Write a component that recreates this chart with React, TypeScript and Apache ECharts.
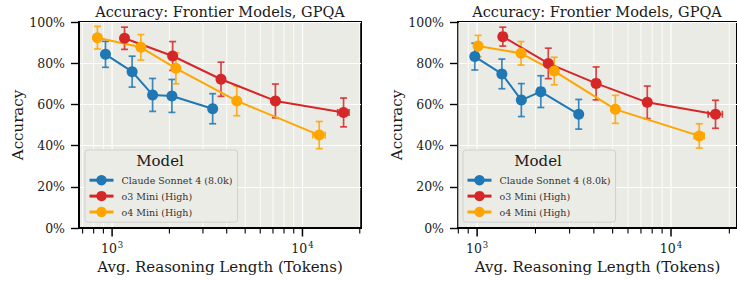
import React, { useEffect, useRef } from 'react';
import * as echarts from 'echarts';

// ---------- data ----------
const modelNames = ['Claude Sonnet 4 (8.0k)', 'o3 Mini (High)', 'o4 Mini (High)'];
const modelColors = ['#1f77b4', '#d62728', '#ffa500'];

const panelTitle = 'Accuracy: Frontier Models, GPQA';
const xAxisTitle = 'Avg. Reasoning Length (Tokens)';
const yAxisTitle = 'Accuracy';
const legendTitle = 'Model';

// Left panel
const leftClaudeTokens = [923, 1274, 1632, 2061, 3375];
const leftClaudeAcc = [84.3, 75.9, 64.6, 64.1, 57.9];
const leftClaudeErr = [6.3, 7.5, 8.0, 8.0, 7.3];
const leftClaudeTokErr = [28, 38, 50, 62, 100];

const leftO3Tokens = [1162, 2080, 3733, 7210, 16440];
const leftO3Acc = [92.1, 83.5, 72.2, 61.7, 56.1];
const leftO3Err = [5.4, 7.0, 8.3, 8.2, 7.0];
const leftO3TokErr = [35, 62, 110, 215, 1130];

const leftO4Tokens = [837, 1416, 2163, 4518, 12250];
const leftO4Acc = [92.4, 87.7, 77.5, 61.7, 45.1];
const leftO4Err = [5.5, 6.2, 7.5, 7.2, 6.6];
const leftO4TokErr = [25, 42, 65, 135, 915];

// Right panel
const rightClaudeTokens = [973, 1342, 1691, 2131, 3342];
const rightClaudeAcc = [83.2, 74.8, 62.1, 66.2, 55.2];
const rightClaudeErr = [6.5, 7.2, 8.0, 7.7, 7.2];
const rightClaudeTokErr = [29, 40, 50, 64, 100];

const rightO3Tokens = [1357, 2329, 4110, 7545, 16970];
const rightO3Acc = [92.9, 79.9, 70.2, 61.0, 55.2];
const rightO3Err = [4.6, 7.4, 8.0, 7.9, 6.8];
const rightO3TokErr = [40, 70, 123, 226, 1430];

const rightO4Tokens = [1012, 1685, 2500, 5165, 13990];
const rightO4Acc = [88.3, 84.8, 76.2, 57.6, 44.7];
const rightO4Err = [5.2, 5.7, 6.7, 6.8, 5.9];
const rightO4TokErr = [30, 50, 75, 155, 840];

// axis ranges / ticks
const leftXRange = [670, 20300];
const rightXRange = [797, 21900];
const leftXTicks = [700, 800, 900, 1000, 2000, 3000, 4000, 5000, 6000, 7000, 8000, 9000, 10000, 20000];
const rightXTicks = [800, 900, 1000, 2000, 3000, 4000, 5000, 6000, 7000, 8000, 9000, 10000, 20000];
const yTickValues = [0, 20, 40, 60, 80, 100];

// ---------- styles ----------
const FONT = '"DejaVu Serif", serif';
const TXT = '#1a1a1a';
const PLOT_BG = '#ebebe5';

const isPow10 = (v: number) => {
  const l = Math.log10(v);
  return Math.abs(l - Math.round(l)) < 1e-6;
};

type Panel = {
  tokens: number[][];
  acc: number[][];
  err: number[][];
  tokErr: number[][];
  xRange: number[];
  xTicks: number[];
  grid: { left: number; top: number; width: number; height: number };
  legendLeft: number;
};

const panels: Panel[] = [
  {
    tokens: [leftClaudeTokens, leftO3Tokens, leftO4Tokens],
    acc: [leftClaudeAcc, leftO3Acc, leftO4Acc],
    err: [leftClaudeErr, leftO3Err, leftO4Err],
    tokErr: [leftClaudeTokErr, leftO3TokErr, leftO4TokErr],
    xRange: leftXRange,
    xTicks: leftXTicks,
    grid: { left: 79, top: 22, width: 282, height: 206 },
    legendLeft: 85,
  },
  {
    tokens: [rightClaudeTokens, rightO3Tokens, rightO4Tokens],
    acc: [rightClaudeAcc, rightO3Acc, rightO4Acc],
    err: [rightClaudeErr, rightO3Err, rightO4Err],
    tokErr: [rightClaudeTokErr, rightO3TokErr, rightO4TokErr],
    xRange: rightXRange,
    xTicks: rightXTicks,
    grid: { left: 458, top: 22, width: 282, height: 206 },
    legendLeft: 463,
  },
];

function buildOption() {
  const grids: any[] = [];
  const xAxes: any[] = [];
  const yAxes: any[] = [];
  const series: any[] = [];
  const legends: any[] = [];
  const graphics: any[] = [];

  panels.forEach((p, pi) => {
    grids.push({
      ...p.grid,
      show: true,
      backgroundColor: PLOT_BG,
      borderColor: '#000',
      borderWidth: 2,
      containLabel: false,
    });
    xAxes.push({
      type: 'log',
      logBase: 10,
      gridIndex: pi,
      min: p.xRange[0],
      max: p.xRange[1],
      name: xAxisTitle,
      nameLocation: 'middle',
      nameGap: 31,
      nameTextStyle: { fontFamily: FONT, fontSize: 15, color: TXT },
      axisLine: { show: true, lineStyle: { color: '#000', width: 2 } },
      axisTick: { show: false },
      splitLine: { show: false },
      minorTick: { show: false },
      minorSplitLine: { show: false },
      axisLabel: {
        margin: 12,
        showMinLabel: false,
        showMaxLabel: false,
        formatter: (v: number) => (isPow10(v) ? `{b|10}{s|${Math.round(Math.log10(v))}}` : ''),
        rich: {
          b: { fontFamily: FONT, fontSize: 12.5, color: TXT },
          s: { fontFamily: FONT, fontSize: 8.5, color: TXT, verticalAlign: 'bottom', padding: [0, 0, 7, 1] },
        },
      },
    });
    yAxes.push({
      type: 'value',
      gridIndex: pi,
      min: 0,
      max: 100,
      interval: 20,
      name: yAxisTitle,
      nameLocation: 'middle',
      nameGap: 54,
      nameTextStyle: { fontFamily: FONT, fontSize: 15, color: TXT },
      axisLine: { show: true, lineStyle: { color: '#000', width: 2 } },
      axisTick: { show: true, length: 8, lineStyle: { color: '#000', width: 1.4 } },
      splitLine: { show: true, lineStyle: { color: '#ffffff', width: 1.2 } },
      axisLabel: {
        margin: 14,
        fontFamily: FONT,
        fontSize: 12.5,
        color: TXT,
        formatter: (v: number) => (yTickValues.includes(v) ? `${v}%` : ''),
      },
    });
    const cx = p.grid.left + p.grid.width / 2;
    graphics.push({
      type: 'text',
      x: pi === 0 ? cx : 597,
      y: 12,
      z: 20,
      style: {
        text: panelTitle,
        fontFamily: FONT,
        fontSize: 14.5,
        fontWeight: 'normal',
        fill: TXT,
        textAlign: 'center',
        textVerticalAlign: 'middle',
      },
    });

    // tick marks and vertical grid lines via the axis scale
    series.push({
      type: 'custom',
      xAxisIndex: pi,
      yAxisIndex: pi,
      clip: false,
      silent: true,
      z: 1,
      encode: { x: 0, y: 1 },
      data: p.xTicks.map((v) => [v, 0]),
      renderItem: (params: any, api: any) => {
        const v = api.value(0);
        const b = api.coord([v, 0]);
        const t = api.coord([v, 100]);
        const major = isPow10(v);
        return {
          type: 'group',
          children: [
            {
              type: 'line',
              shape: { x1: b[0], y1: t[1] + 1, x2: b[0], y2: b[1] - 1 },
              style: { stroke: '#ffffff', lineWidth: major ? 1.2 : 0.8 },
            },
            {
              type: 'line',
              shape: { x1: b[0], y1: b[1], x2: b[0], y2: b[1] + (major ? 8.5 : 5.5) },
              style: { stroke: '#000', lineWidth: major ? 1.5 : 1.1 },
            },
          ],
        };
      },
    });

    modelNames.forEach((name, mi) => {
      const color = modelColors[mi];
      const errData = p.tokens[mi].map((x, i) => [x, p.acc[mi][i], p.err[mi][i], p.tokErr[mi][i]]);
      series.push({
        type: 'custom',
        xAxisIndex: pi,
        yAxisIndex: pi,
        z: 3,
        silent: true,
        encode: { x: 0, y: 1 },
        itemStyle: { color },
        data: errData,
        renderItem: (params: any, api: any) => {
          const x = api.value(0);
          const y = api.value(1);
          const ey = api.value(2);
          const ex = api.value(3);
          const t = api.coord([x, y + ey]);
          const b = api.coord([x, y - ey]);
          const l = api.coord([x - ex, y]);
          const r = api.coord([x + ex, y]);
          const cap = 3.5;
          const st = { stroke: color, lineWidth: 1.7, opacity: 0.85 };
          return {
            type: 'group',
            children: [
              { type: 'line', shape: { x1: t[0], y1: t[1], x2: b[0], y2: b[1] }, style: st },
              { type: 'line', shape: { x1: t[0] - cap, y1: t[1], x2: t[0] + cap, y2: t[1] }, style: st },
              { type: 'line', shape: { x1: b[0] - cap, y1: b[1], x2: b[0] + cap, y2: b[1] }, style: st },
              { type: 'line', shape: { x1: l[0], y1: l[1], x2: r[0], y2: r[1] }, style: st },
              { type: 'line', shape: { x1: l[0], y1: l[1] - cap, x2: l[0], y2: l[1] + cap }, style: st },
              { type: 'line', shape: { x1: r[0], y1: r[1] - cap, x2: r[0], y2: r[1] + cap }, style: st },
            ],
          };
        },
      });
      series.push({
        type: 'line',
        name: name,
        xAxisIndex: pi,
        yAxisIndex: pi,
        z: 3,
        data: p.tokens[mi].map((x, i) => [x, p.acc[mi][i]]),
        symbol: 'circle',
        symbolSize: 11,
        showSymbol: true,
        lineStyle: { color, width: 2 },
        itemStyle: { color },
        emphasis: { disabled: true },
      });
    });

    legends.push({
      data: modelNames,
      orient: 'vertical',
      left: p.legendLeft,
      top: 150,
      padding: [25, 5, 5, 3],
      itemWidth: 24,
      itemHeight: 13,
      itemGap: 5.5,
      selectedMode: false,
      backgroundColor: 'rgba(236,236,230,0.92)',
      borderColor: '#cfcfcf',
      borderWidth: 1,
      borderRadius: 3,
      lineStyle: { width: 3 },
      textStyle: { fontFamily: FONT, fontSize: 9.5, color: '#333', padding: [0, 0, 0, 3] },
      z: 10,
    });
    graphics.push({
      type: 'text',
      x: p.legendLeft + 75,
      y: 161,
      z: 20,
      style: {
        text: legendTitle,
        fontFamily: FONT,
        fontSize: 15,
        fontWeight: 'normal',
        fill: TXT,
        textAlign: 'center',
        textVerticalAlign: 'middle',
      },
    });
  });

  return {
    animation: false,
    backgroundColor: '#ffffff',
    grid: grids,
    xAxis: xAxes,
    yAxis: yAxes,
    legend: legends,
    series,
    graphic: graphics,
  };
}

export default function App() {
  const ref = useRef<HTMLDivElement>(null);
  useEffect(() => {
    if (!ref.current) return;
    const chart = echarts.init(ref.current, undefined, { renderer: 'svg' });
    chart.setOption(buildOption() as any);
    return () => chart.dispose();
  }, []);
  return (
    <div
      ref={ref}
      style={{ position: 'fixed', left: 0, top: 0, width: 737, height: 282, background: '#fff' }}
    />
  );
}
